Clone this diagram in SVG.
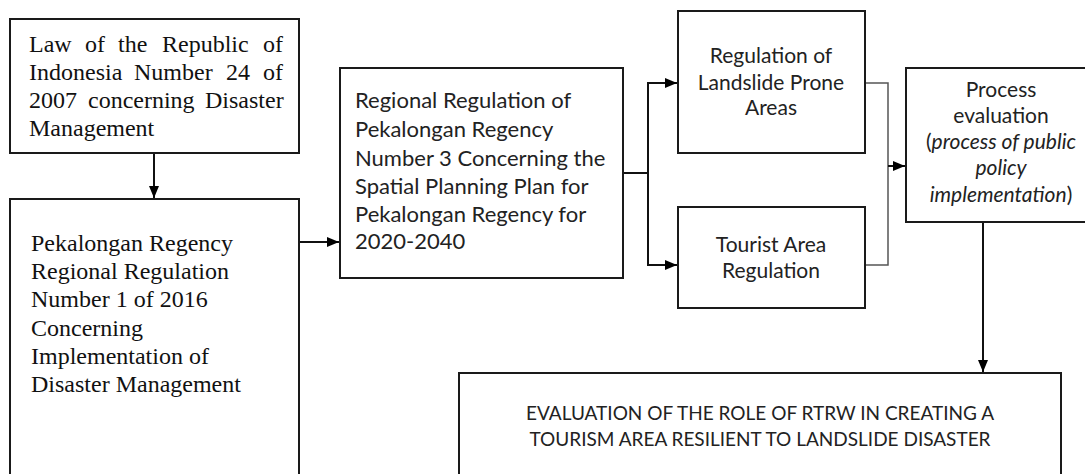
<svg xmlns="http://www.w3.org/2000/svg" width="1085" height="474" viewBox="0 0 1085 474">
  <style>
    .box { fill: #fff; stroke: #1a1a1a; stroke-width: 2; }
    .serif { font-family: "Liberation Serif", "Times New Roman", serif; font-size: 24px; fill: #111; }
    .sans { font-family: Lato, "Open Sans", sans-serif; fill: #222; }
    .conn { fill: none; stroke: #111; stroke-width: 2; }
    .thin { fill: none; stroke: #555; stroke-width: 1.5; }
  </style>
  <defs>
    <marker id="arr" markerUnits="userSpaceOnUse" markerWidth="12" markerHeight="10" refX="12" refY="5" orient="auto">
      <path d="M0,0 L12,5 L0,10 Z" fill="#000"/>
    </marker>
  </defs>
  <rect width="1085" height="474" fill="#fff"/>

  <g id="connectors">
    <path class="conn" d="M154,153 V198" marker-end="url(#arr)"/>
    <path class="conn" d="M299,242 H339" marker-end="url(#arr)"/>
    <path class="conn" d="M623,173 H648"/>
    <path class="conn" d="M648,83 V265"/>
    <path class="conn" d="M647,83 H677" marker-end="url(#arr)"/>
    <path class="conn" d="M647,265 H677" marker-end="url(#arr)"/>
    <path class="thin" d="M865,83 H888 V265 H865"/>
    <path class="conn" d="M888,166 H905" marker-end="url(#arr)"/>
    <path class="conn" d="M983,222 V372" marker-end="url(#arr)"/>
  </g>

  <g id="law">
    <rect class="box" x="10" y="19" width="289" height="134"/>
    <text class="serif" y="52"><tspan x="29">Law</tspan><tspan x="85">of</tspan><tspan x="118">the</tspan><tspan x="162">Republic</tspan><tspan x="263">of</tspan></text>
    <text class="serif" y="80"><tspan x="29">Indonesia</tspan><tspan x="134">Number</tspan><tspan x="226">24</tspan><tspan x="263">of</tspan></text>
    <text class="serif" y="108"><tspan x="29">2007</tspan><tspan x="88">concerning</tspan><tspan x="205">Disaster</tspan></text>
    <text class="serif" x="29" y="136">Management</text>
  </g>

  <g id="regional-regulation-2016">
    <rect class="box" x="10" y="199" width="289" height="300"/>
    <text class="serif" x="31" y="251">Pekalongan Regency</text>
    <text class="serif" x="31" y="279">Regional Regulation</text>
    <text class="serif" x="31" y="307">Number 1 of 2016</text>
    <text class="serif" x="31" y="336">Concerning</text>
    <text class="serif" x="31" y="364">Implementation of</text>
    <text class="serif" x="31" y="392">Disaster Management</text>
  </g>

  <g id="spatial-plan">
    <rect class="box" x="340" y="68" width="283" height="210"/>
    <g class="sans" font-size="22">
      <text x="355" y="108">Regional Regulation of</text>
      <text x="355" y="137">Pekalongan Regency</text>
      <text x="355" y="166">Number 3 Concerning the</text>
      <text x="355" y="194">Spatial Planning Plan for</text>
      <text x="355" y="222">Pekalongan Regency for</text>
      <text x="355" y="249">2020-2040</text>
    </g>
  </g>

  <g id="landslide-regulation">
    <rect class="box" x="678" y="11" width="187" height="142"/>
    <g class="sans" font-size="21" text-anchor="middle">
      <text x="771" y="63">Regulation of</text>
      <text x="771" y="90">Landslide Prone</text>
      <text x="771" y="115">Areas</text>
    </g>
  </g>

  <g id="tourist-regulation">
    <rect class="box" x="678" y="207" width="187" height="101"/>
    <g class="sans" font-size="21" text-anchor="middle">
      <text x="771" y="252">Tourist Area</text>
      <text x="771" y="278">Regulation</text>
    </g>
  </g>

  <g id="process-evaluation">
    <rect class="box" x="906" y="68" width="190" height="154"/>
    <g class="sans" font-size="21" text-anchor="middle">
      <text x="1001" y="97">Process</text>
      <text x="1001" y="123">evaluation</text>
      <text x="1001" y="149">(<tspan font-style="italic">process of public</tspan></text>
      <text x="1001" y="175" font-style="italic">policy</text>
      <text x="1001" y="202"><tspan font-style="italic">implementation</tspan>)</text>
    </g>
  </g>

  <g id="evaluation-result">
    <rect class="box" x="459" y="373" width="602" height="120"/>
    <g class="sans" font-size="19" text-anchor="middle">
      <text x="760" y="420">EVALUATION OF THE ROLE OF RTRW IN CREATING A</text>
      <text x="760" y="446">TOURISM AREA RESILIENT TO LANDSLIDE DISASTER</text>
    </g>
  </g>
</svg>
